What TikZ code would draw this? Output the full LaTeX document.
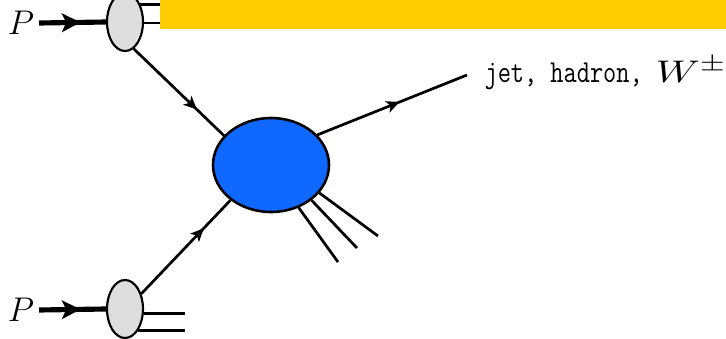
\documentclass[tikz,border=0pt]{standalone}
\usepackage{amsmath,amssymb}
\usepackage{graphicx}
\usetikzlibrary{arrows.meta, shapes.geometric, decorations.markings}
\definecolor{blobgray}{HTML}{DEDEDE}
\definecolor{hardblue}{HTML}{0F68FF}
\definecolor{banner}{HTML}{FFCC00}

\begin{document}
\begin{tikzpicture}[
  x=0.35pt, y=-0.35pt,
  pdfblob/.style={
    ellipse, draw=black, line width=0.75pt, fill=blobgray,
    minimum width=12.6pt, minimum height=20.3pt, inner sep=0pt
  },
  hardblob/.style={
    ellipse, draw=black, line width=0.9pt, fill=hardblue,
    minimum width=40.6pt, minimum height=32.9pt, inner sep=0pt
  },
  plabel/.style={font=\large, inner sep=1.5pt},
  midarr/.style={
    postaction={decorate},
    decoration={markings, mark=at position #1 with
      {\arrow{Stealth[length=4.6pt, width=4.2pt, inset=1.2pt]}}}
  },
  bigarr/.style={
    line width=1.8pt, postaction={decorate},
    decoration={markings, mark=at position #1 with
      {\arrow{Stealth[length=6.5pt, width=6.5pt, inset=1.5pt]}}}
  },
  parton/.style={line width=0.95pt},
  remnant/.style={line width=0.95pt},
]

\useasboundingbox (0,0) rectangle (726,339);

% ---- Incoming protons ----
\node[plabel] (plabA) at (21,23)  {$P$};
\node[plabel] (plabB) at (21,310) {$P$};

\node[pdfblob] (pa) at (125,22)  {};
\node[pdfblob] (pb) at (125,309) {};

\draw[bigarr=0.62] (plabA.east) -- (pa.west);
\draw[bigarr=0.62] (plabB.east) -- (pb.west);

% ---- Proton remnants ----
\coordinate (cutA) at (170,0);
\coordinate (cutB) at (185,0);
\draw[remnant] (pa.49)  -- (pa.49 -| cutA);
\draw[remnant] (pa.-3)  -- (pa.-3 -| cutA);
\draw[remnant] (pb.-13) -- (pb.-13 -| cutB);
\draw[remnant] (pb.-59) -- (pb.-59 -| cutB);

% ---- Hard scattering ----
\node[hardblob] (hard) at (271,165) {};

% Partons into the hard blob
\draw[parton, midarr=0.7] (pa.-72) -- (hard.148);
\draw[parton, midarr=0.7] (pb.43)  -- (hard.-139);

% Observed final state
\coordinate (obs) at (467,75);
\draw[parton, midarr=0.55] (hard.33) -- (obs);
\node[anchor=base west, inner sep=0pt] (final) at (484,82)
  {\fontsize{11.2}{13}\selectfont
   \scalebox{0.8}[1]{\texttt{jet, hadron, }}\scalebox{1.3}[1]{$W^{\pm}$}};

% Unobserved products
\coordinate (xa) at (338,262);
\coordinate (xb) at (357,248);
\coordinate (xc) at (378,236);
\draw[parton] (hard.-57) -- (xa);
\draw[parton] (hard.-41) -- (xb);
\draw[parton] (hard.-30) -- (xc);

% ---- Title bar ----
\fill[banner] (160,0) rectangle (726,29);

\end{tikzpicture}
\end{document}
